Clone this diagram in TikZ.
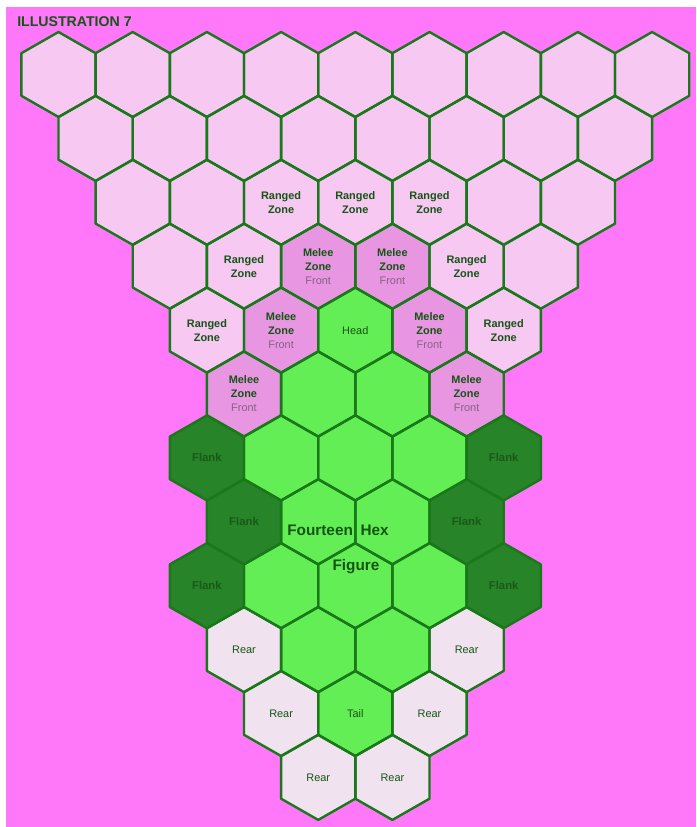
\documentclass[tikz,border=0pt]{standalone}
\usepackage{fontspec}
\setmainfont{Liberation Sans}
\usetikzlibrary{patterns}
\definecolor{cBg}{RGB}{255,120,250}
\definecolor{cLite}{RGB}{246,200,242}
\definecolor{cMelee}{RGB}{232,150,225}
\definecolor{cMeleeLine}{RGB}{215,125,205}
\definecolor{cBody}{RGB}{100,238,85}
\definecolor{cFlank}{RGB}{40,132,40}
\definecolor{cRear}{RGB}{240,226,238}
\definecolor{cRearLine}{RGB}{238,200,232}
\definecolor{cEdge}{RGB}{25,120,25}
\definecolor{cText}{RGB}{20,85,20}
\definecolor{cFlankText}{RGB}{24,90,24}
\definecolor{cFront}{RGB}{130,100,130}
\newcommand\cellfill[3]{%
  \coordinate (h#1-#2) at ({58.5+37.1*#2},{74.5+63.9*(#1-1)});
  \pic[#3] at (h#1-#2) {hex};}
\newcommand\celledge[3]{\pic[edge] at (h#1-#2) {hex};}
\newcommand\celllist{%
  \foreach \k in {0,2,...,16}{\cell{1}{\k}{lite}}
  \foreach \k in {1,3,...,15}{\cell{2}{\k}{lite}}
  \foreach \k in {2,4,...,14}{\cell{3}{\k}{lite}}
  \foreach \k in {3,5,11,13}{\cell{4}{\k}{lite}}
  \foreach \k in {7,9}{\cell{4}{\k}{melee}}
  \foreach \k in {4,12}{\cell{5}{\k}{lite}}
  \foreach \k in {6,10}{\cell{5}{\k}{melee}}
  \cell{5}{8}{body}
  \foreach \k in {5,11}{\cell{6}{\k}{melee}}
  \foreach \k in {7,9}{\cell{6}{\k}{body}}
  \foreach \k in {4,12}{\cell{7}{\k}{flank}}
  \foreach \k in {6,8,10}{\cell{7}{\k}{body}}
  \foreach \k in {5,11}{\cell{8}{\k}{flank}}
  \foreach \k in {7,9}{\cell{8}{\k}{body}}
  \foreach \k in {4,12}{\cell{9}{\k}{flank}}
  \foreach \k in {6,8,10}{\cell{9}{\k}{body}}
  \foreach \k in {5,11}{\cell{10}{\k}{rear}}
  \foreach \k in {7,9}{\cell{10}{\k}{body}}
  \foreach \k in {6,10}{\cell{11}{\k}{rear}}
  \cell{11}{8}{body}
  \foreach \k in {7,9}{\cell{12}{\k}{rear}}
}
\begin{document}
\begin{tikzpicture}[x=0.75pt,y=-0.75pt,
  pics/hex/.style={code={\path[pic actions] (0,-42.5) -- (37.1,-21.3) -- (37.1,21.3)
      -- (0,42.5) -- (-37.1,21.3) -- (-37.1,-21.3) -- cycle;}},
  lite/.style={fill=cLite},
  melee/.style={fill=cMelee,postaction={pattern=horizontal lines,pattern color=cMeleeLine}},
  body/.style={fill=cBody},
  flank/.style={fill=cFlank},
  rear/.style={fill=cRear,postaction={pattern=horizontal lines,pattern color=cRearLine}},
  edge/.style={draw=cEdge,line width=1.8pt,line join=round},
  lbl/.style={font=\fontsize{8.2}{10.5}\selectfont\bfseries,text=cText,align=center,inner sep=0pt},
  small/.style={font=\fontsize{8.2}{10}\selectfont,text=cText,inner sep=0pt},
  flanklbl/.style={font=\fontsize{8.5}{10}\selectfont\bfseries,text=cFlankText,inner sep=0pt},
  big/.style={font=\fontsize{11.5}{13}\selectfont\bfseries,text=cText,inner sep=0pt}]
\useasboundingbox (0,0) rectangle (696,827);
\fill[cBg] (0,0) rectangle (696,827);
\fill[white] (0,0) rectangle (696,7);
\fill[white] (0,0) rectangle (6,827);
\node[font=\fontsize{10.6}{12}\selectfont\bfseries,text=cText,anchor=west,inner sep=0pt] (title) at (17,22) {ILLUSTRATION 7};
% fills, then outlines
\let\cell\cellfill \celllist
\let\cell\celledge \celllist
% ranged zones
\node[lbl] (rz1) at (h3-6) {Ranged\\Zone};
\node[lbl] (rz2) at (h3-8) {Ranged\\Zone};
\node[lbl] (rz3) at (h3-10) {Ranged\\Zone};
\node[lbl] (rz4) at (h4-5) {Ranged\\Zone};
\node[lbl] (rz5) at (h4-11) {Ranged\\Zone};
\node[lbl] (rz6) at (h5-4) {Ranged\\Zone};
\node[lbl] (rz7) at (h5-12) {Ranged\\Zone};
% melee zones
\foreach \r/\k/\n in {4/7/mz1,4/9/mz2,5/6/mz3,5/10/mz4,6/5/mz5,6/11/mz6}
  \node[lbl] (\n) at (h\r-\k) {Melee\\Zone\\\mdseries\color{cFront}Front};
% figure parts
\node[small] (head) at (h5-8) {Head};
\node[small] (tail) at (h11-8) {Tail};
\foreach \r/\k/\n in {10/5/rr1,10/11/rr2,11/6/rr3,11/10/rr4,12/7/rr5,12/9/rr6}
  \node[small] (\n) at (h\r-\k) {Rear};
\foreach \r/\k/\n in {7/4/fl1,7/12/fl2,8/5/fl3,8/11/fl4,9/4/fl5,9/12/fl6}
  \node[flanklbl] (\n) at (h\r-\k) {Flank};
\node[big] (fourteen) at (338,530) {Fourteen\hspace{0.5em}Hex};
\node[big] (figure) at (356,567) {Figure};
\end{tikzpicture}
\end{document}
